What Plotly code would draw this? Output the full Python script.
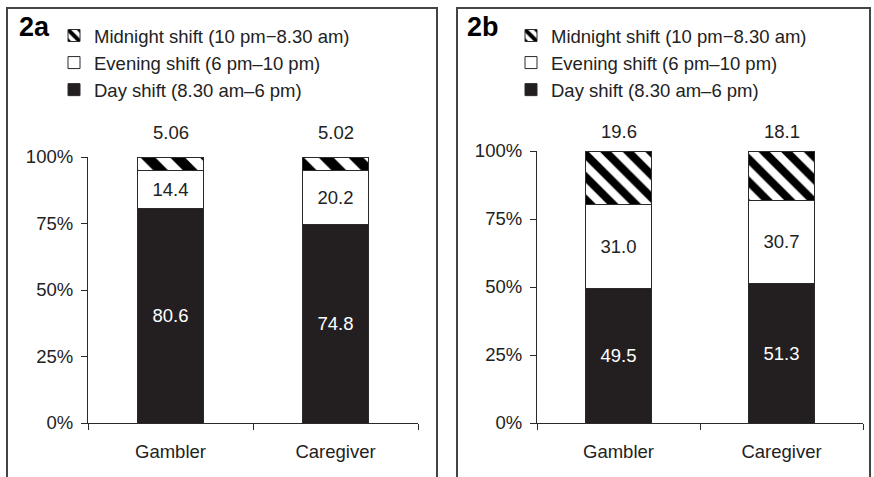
import plotly.graph_objects as go

# ---- data ----
groups = ["Gambler", "Caregiver"]
series_names = ["Day shift (8.30 am–6 pm)", "Evening shift (6 pm–10 pm)", "Midnight shift (10 pm−8.30 am)"]
panel_a_day = [80.6, 74.8]
panel_a_evening = [14.4, 20.2]
panel_a_midnight = [5.06, 5.02]
panel_b_day = [49.5, 51.3]
panel_b_evening = [31.0, 30.7]
panel_b_midnight = [19.6, 18.1]
panel_labels = ["2a", "2b"]
y_ticks = [0, 25, 50, 75, 100]

W, H = 874, 477
FONT = "Arial, Liberation Sans, sans-serif"
FS = 18.5
DAY_COLOR = "#231f20"
LINE = "#2a2a2a"

def px_x(p):
    return p / W

def px_y(p):
    return 1 - p / H

fig = go.Figure()

panels = [
    dict(day=panel_a_day, eve=panel_a_evening, mid=panel_a_midnight, fmt_mid="{:.2f}",
         xa="x", ya="y", legend="legend", hatch=21, lab_shift=12),
    dict(day=panel_b_day, eve=panel_b_evening, mid=panel_b_midnight, fmt_mid="{:.1f}",
         xa="x2", ya="y2", legend="legend2", hatch=16, lab_shift=7),
]

for p in panels:
    fig.add_trace(go.Bar(
        x=groups, y=p["day"], name=series_names[0], xaxis=p["xa"], yaxis=p["ya"],
        width=0.4, marker=dict(color=DAY_COLOR, line=dict(color=LINE, width=1)),
        text=["{:.1f}".format(v) for v in p["day"]], textposition="inside",
        insidetextanchor="middle", textangle=0,
        textfont=dict(color="white", size=FS, family=FONT),
        legend=p["legend"], legendgroup=p["legend"] + "day", legendrank=3, hoverinfo="skip",
    ))
    fig.add_trace(go.Bar(
        x=groups, y=p["eve"], name=series_names[1], xaxis=p["xa"], yaxis=p["ya"],
        width=0.4, marker=dict(color="white", line=dict(color=LINE, width=1)),
        text=["{:.1f}".format(v) for v in p["eve"]], textposition="inside",
        insidetextanchor="middle", textangle=0,
        textfont=dict(color="#222", size=FS, family=FONT),
        legend=p["legend"], legendgroup=p["legend"] + "eve", legendrank=2, hoverinfo="skip",
    ))
    fig.add_trace(go.Bar(
        x=groups, y=p["mid"], name=series_names[2], xaxis=p["xa"], yaxis=p["ya"],
        width=0.4,
        marker=dict(color="white", line=dict(color=LINE, width=1),
                    pattern=dict(shape="\\", fgcolor="black", bgcolor="white", fgopacity=1,
                                 size=p["hatch"], solidity=0.5)),
        textposition="none",
        legend=p["legend"], legendgroup=p["legend"] + "mid", legendrank=1, hoverinfo="skip",
    ))
    for g, v in zip(groups, p["mid"]):
        fig.add_annotation(x=g, y=100, xref=p["xa"], yref=p["ya"], text=p["fmt_mid"].format(v),
                           showarrow=False, yanchor="bottom", yshift=p["lab_shift"],
                           font=dict(size=FS, color="#222", family=FONT))

axis_common = dict(showline=True, linecolor=LINE, linewidth=1.2, ticks="outside",
                   ticklen=6, tickcolor=LINE, tickwidth=1.2, showgrid=False, zeroline=False,
                   automargin=False,
                   tickfont=dict(size=FS, color="#222", family=FONT), fixedrange=True)

legend_common = dict(xanchor="left", yanchor="top", traceorder="grouped", tracegroupgap=0,
                     bgcolor="rgba(0,0,0,0)", font=dict(size=FS, family=FONT, color="#222"),
                     itemclick=False, itemdoubleclick=False)

fig.update_layout(
    width=W, height=H, margin=dict(l=0, r=0, t=0, b=0, pad=0, autoexpand=False),
    paper_bgcolor="white", plot_bgcolor="white",
    barmode="stack", barnorm="percent", showlegend=True,
    font=dict(family=FONT, size=FS, color="#222"),
    xaxis=dict(domain=[px_x(88), px_x(418)], anchor="y", range=[-0.5, 1.5],
               tickson="boundaries", ticklabelstandoff=12, **axis_common),
    yaxis=dict(domain=[px_y(423), px_y(157)], anchor="x", range=[0, 100],
               tickvals=y_ticks, ticktext=[f"{v}%" for v in y_ticks],
               ticklabelstandoff=4, **axis_common),
    xaxis2=dict(domain=[px_x(537), px_x(863)], anchor="y2", range=[-0.5, 1.5],
                tickson="boundaries", ticklabelstandoff=12, **axis_common),
    yaxis2=dict(domain=[px_y(423), px_y(151)], anchor="x2", range=[0, 100],
                tickvals=y_ticks, ticktext=[f"{v}%" for v in y_ticks],
                ticklabelstandoff=4, **axis_common),
    legend=dict(x=px_x(54), y=px_y(17), **legend_common),
    legend2=dict(x=px_x(511), y=px_y(17), **legend_common),
)

# panel frames (open at the bottom, where the figure is cropped)
for x0, x1 in [(7, 437), (457, 870)]:
    a, b, t = px_x(x0), px_x(x1), px_y(8)
    fig.add_shape(type="path", xref="paper", yref="paper",
                  path=f"M{a},0 L{a},{t} L{b},{t} L{b},0",
                  line=dict(color="#444", width=2))

# panel labels
for lab, xc in zip(panel_labels, [34, 483]):
    fig.add_annotation(x=px_x(xc), y=px_y(27), xref="paper", yref="paper", text="<b>" + lab + "</b>",
                       showarrow=False, xanchor="center", yanchor="middle",
                       font=dict(size=27, family=FONT, color="black"))

fig.write_html("out.html", config={"displayModeBar": False},
               post_script="document.body.style.margin='0';")
